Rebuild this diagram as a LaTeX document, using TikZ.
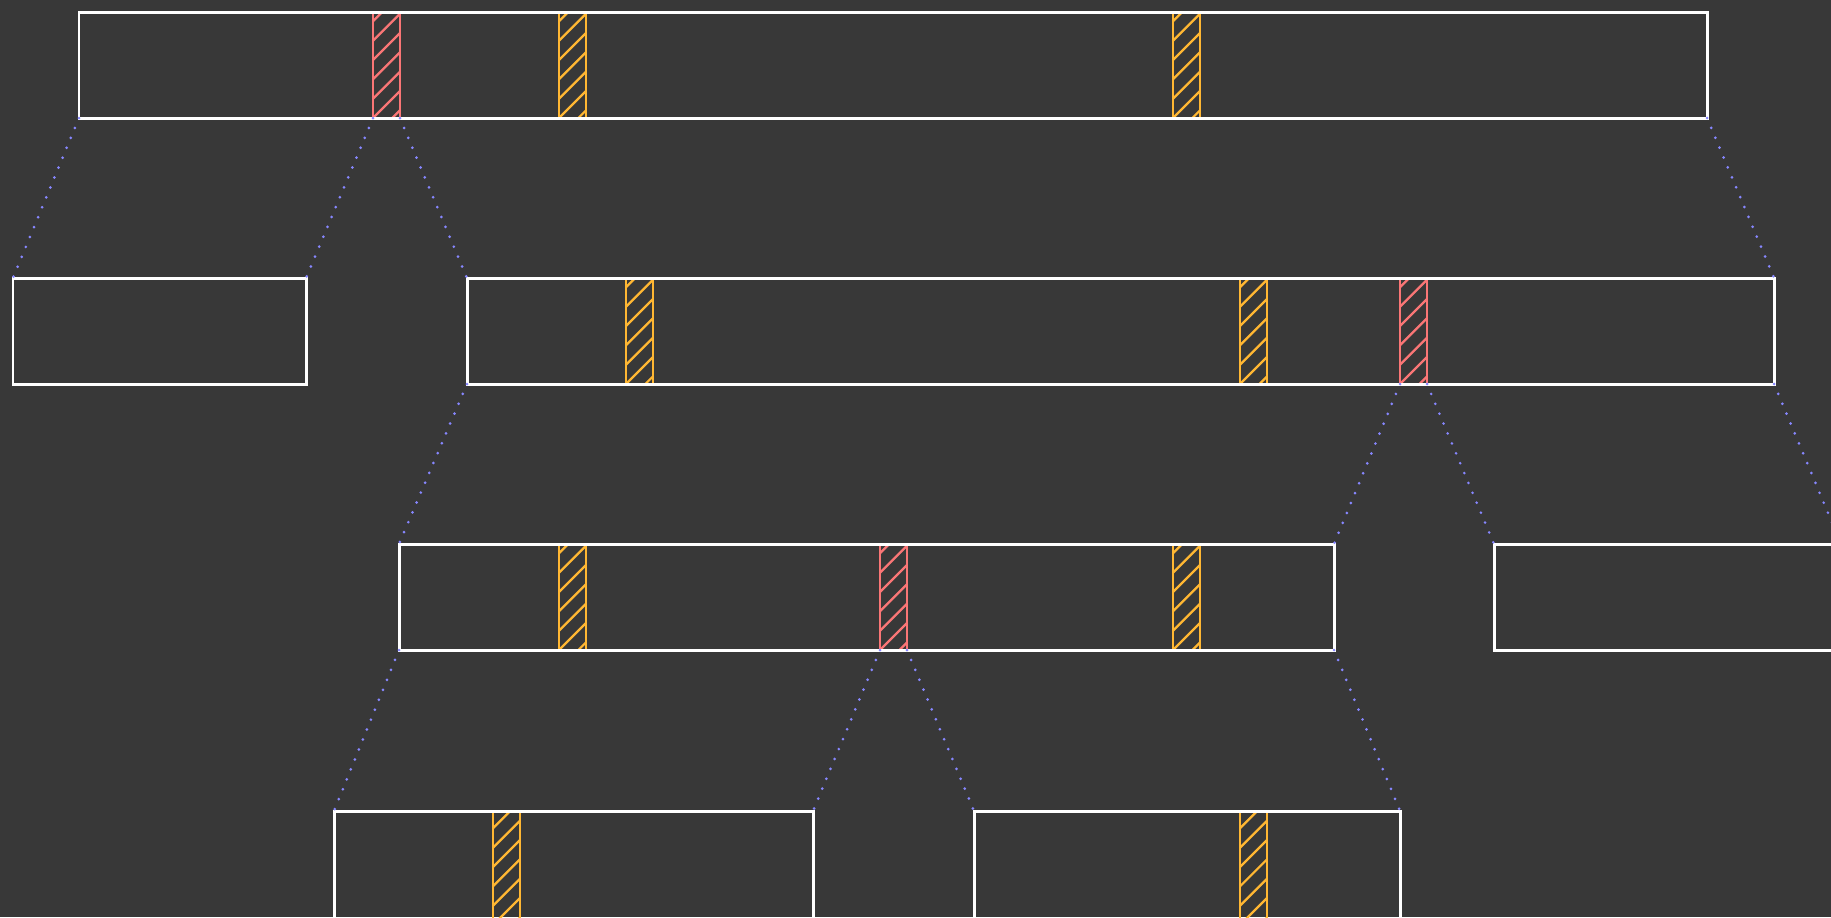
\documentclass[tikz,border=0pt]{standalone}
\usetikzlibrary{calc}
\definecolor{board}{RGB}{56,56,56}
\definecolor{chalkred}{RGB}{250,118,118}
\definecolor{chalkorange}{RGB}{255,183,51}
\definecolor{dotblue}{RGB}{135,135,255}
\tikzset{
  arr/.style={draw=white, line width=0.85pt, rectangle, inner sep=0pt, outer sep=0pt},
  hbar/.style={rectangle, inner sep=0pt, outer sep=0pt, draw=#1, line width=0.7pt,
    path picture={\foreach \k in {-2,...,7}{\draw[#1, line width=0.65pt] ([yshift=\k*5.5pt]path picture bounding box.south west) -- ++(45:3cm);}}},
  link/.style={draw=dotblue, line width=0.85pt, line cap=round, dash pattern=on 0pt off 3.05pt},
}
\newcommand\mkbox[5]{\node[arr, minimum width={(#4-#2)*0.01cm}, minimum height={(#5-#3)*0.01cm}] (#1) at ({(#2+#4)/2},{(#3+#5)/2}) {};}
\newcommand\mkbar[6]{\node[hbar=#2, minimum width={(#4-#3)*0.01cm}, minimum height={(#6-#5)*0.01cm}] (#1) at ({(#3+#4)/2},{(#5+#6)/2}) {};}
\begin{document}
\begin{tikzpicture}[x=0.01cm, y=-0.01cm]
\clip (0,0) rectangle (1831,917);
\fill[board] (0,0) rectangle (1831,917);
% hatched bars
\mkbar{rA}{chalkred}{373}{400}{12}{118}
\mkbar{oA1}{chalkorange}{559}{586}{12}{118}
\mkbar{oA2}{chalkorange}{1173}{1200}{12}{118}
\mkbar{oC1}{chalkorange}{626}{653}{278}{384}
\mkbar{oC2}{chalkorange}{1240}{1267}{278}{384}
\mkbar{rC}{chalkred}{1400}{1427}{278}{384}
\mkbar{oD1}{chalkorange}{559}{586}{544}{650}
\mkbar{rD}{chalkred}{880}{907}{544}{650}
\mkbar{oD2}{chalkorange}{1173}{1200}{544}{650}
\mkbar{oF}{chalkorange}{493}{520}{811}{925}
\mkbar{oG}{chalkorange}{1240}{1267}{811}{925}
% arrays
\mkbox{A}{79}{12}{1707}{118}
\mkbox{B}{13}{278}{306}{384}
\mkbox{C}{467}{278}{1774}{384}
\mkbox{D}{399}{544}{1334}{650}
\mkbox{E}{1494}{544}{1841}{650}
\mkbox{F}{334}{811}{813}{925}
\mkbox{G}{974}{811}{1400}{925}
% dotted connectors
\draw[link] (A.south west) -- (B.north west);
\draw[link] (rA.south west) -- (B.north east);
\draw[link] (rA.south east) -- (C.north west);
\draw[link] (A.south east) -- (C.north east);
\draw[link] (C.south west) -- (D.north west);
\draw[link] (rC.south west) -- (D.north east);
\draw[link] (rC.south east) -- (E.north west);
\draw[link] (C.south east) -- (E.north east);
\draw[link] (D.south west) -- (F.north west);
\draw[link] (rD.south west) -- (F.north east);
\draw[link] (rD.south east) -- (G.north west);
\draw[link] (D.south east) -- (G.north east);
\end{tikzpicture}
\end{document}
